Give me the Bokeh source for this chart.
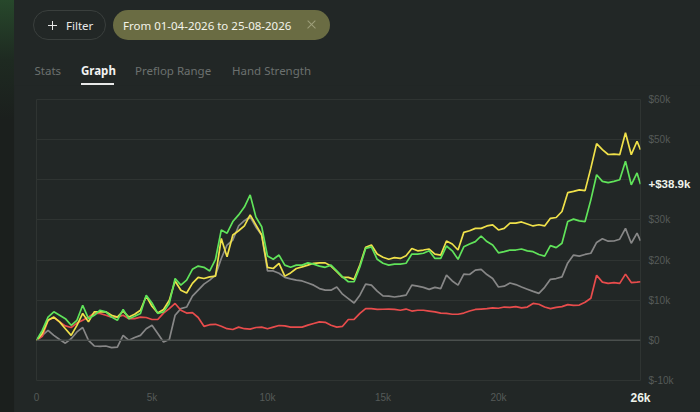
from bokeh.plotting import figure
from bokeh.layouts import row, column
from bokeh.models import Range1d, FixedTicker, Span, Label, Div
from bokeh.embed import file_html
from bokeh.resources import INLINE

# ---------------- data (hands played, cumulative result in $k) ----------------
hands = [0, 250, 500, 750, 1000, 1250, 1500, 1750, 2000, 2250,
         2500, 2750, 3000, 3250, 3500, 3750, 4000, 4250, 4500, 4750,
         5000, 5250, 5500, 5750, 6000, 6250, 6500, 6750, 7000, 7250,
         7500, 7750, 8000, 8250, 8500, 8750, 9000, 9250, 9500, 9750,
         10000, 10250, 10500, 10750, 11000, 11250, 11500, 11750, 12000, 12250,
         12500, 12750, 13000, 13250, 13500, 13750, 14000, 14250, 14500, 14750,
         15000, 15250, 15500, 15750, 16000, 16250, 16500, 16750, 17000, 17250,
         17500, 17750, 18000, 18250, 18500, 18750, 19000, 19250, 19500, 19750,
         20000, 20250, 20500, 20750, 21000, 21250, 21500, 21750, 22000, 22250,
         22500, 22750, 23000, 23250, 23500, 23750, 24000, 24250, 24500, 24750,
         25000, 25250, 25500, 25750, 26000, 26150]

net_won = [0, 2.5, 5.8, 7.1, 6.25, 5.4, 3.75, 5.0, 8.75, 5.4,
           6.25, 7.5, 7.1, 5.8, 5.0, 7.7, 5.4, 6.0, 6.7, 11.25,
           9.3, 6.7, 7.1, 9.2, 15.4, 13.75, 15.0, 17.7, 18.5, 18.2,
           17.3, 20.2, 27.5, 26.7, 29.6, 31.25, 33.2, 36.25, 30.7, 28.3,
           21.0, 20.2, 21.25, 18.75, 18.2, 18.75, 18.75, 19.3, 19.0, 18.5,
           18.2, 18.75, 17.3, 15.8, 14.6, 14.6, 18.3, 22.9, 23.3, 20.2,
           19.2, 18.75, 19.0, 19.0, 19.2, 21.5, 21.5, 21.7, 22.3, 20.4,
           20.4, 23.5, 22.3, 20.2, 23.3, 24.0, 24.6, 26.0, 24.6, 23.75,
           21.8, 22.1, 22.5, 22.5, 22.75, 22.3, 22.1, 21.4, 21.0, 23.6,
           23.1, 24.2, 29.6, 30.2, 29.75, 29.6, 35.0, 41.25, 39.6, 39.3,
           39.6, 40.0, 44.6, 38.75, 41.7, 38.9]

all_in_ev = [0, 1.7, 5.0, 5.8, 4.6, 2.9, 1.25, 3.75, 6.7, 4.6,
             7.1, 7.1, 7.1, 6.25, 5.8, 7.3, 5.8, 6.5, 7.5, 11.0,
             8.5, 6.8, 7.7, 10.0, 14.8, 12.5, 11.8, 14.2, 15.7, 15.4,
             15.8, 16.0, 25.4, 20.8, 26.25, 27.3, 28.5, 31.25, 28.75, 26.25,
             18.2, 17.9, 19.2, 16.0, 16.8, 17.9, 18.3, 18.75, 19.2, 19.3,
             19.3, 18.5, 17.1, 15.7, 15.7, 15.2, 18.75, 23.2, 23.75, 21.5,
             20.7, 20.2, 20.6, 20.4, 21.1, 22.9, 22.3, 22.5, 22.75, 21.5,
             21.25, 24.75, 24.0, 22.5, 26.9, 27.3, 27.9, 27.9, 28.5, 28.75,
             27.5, 27.9, 29.2, 29.2, 29.5, 29.0, 28.5, 28.8, 28.5, 30.4,
             30.6, 32.1, 36.8, 37.1, 37.5, 37.3, 42.9, 49.0, 47.5, 46.3,
             46.4, 46.25, 51.7, 46.25, 49.6, 47.5]

showdown = [0, 1.25, 2.5, 1.25, 0.2, -0.7, 0.4, 2.1, 3.2, 0.0,
            -1.4, -1.5, -1.4, -1.8, -1.7, 1.25, 0.0, 0.7, 1.25, 2.9,
            3.75, 1.7, -0.4, 0.2, 6.25, 7.9, 8.3, 11.0, 12.5, 14.0,
            15.0, 16.25, 20.4, 23.75, 25.0, 28.5, 29.8, 30.8, 28.2, 26.25,
            17.3, 17.3, 16.7, 15.7, 15.3, 15.0, 14.8, 14.3, 13.75, 12.9,
            12.5, 12.5, 13.3, 11.5, 10.4, 9.3, 11.25, 14.0, 13.75, 12.25,
            11.1, 11.0, 10.8, 11.0, 11.25, 13.75, 13.5, 13.2, 12.7, 13.2,
            12.9, 16.25, 14.8, 13.75, 16.5, 16.4, 17.5, 17.7, 16.4, 15.4,
            13.3, 13.5, 14.3, 13.9, 13.3, 12.75, 12.2, 11.7, 13.2, 15.2,
            15.4, 15.8, 19.3, 21.25, 21.0, 21.4, 21.7, 24.4, 25.3, 24.7,
            24.75, 25.2, 27.9, 24.2, 26.7, 24.8]

non_showdown = [0, 1.0, 5.0, 5.7, 4.6, 3.6, 3.2, 4.3, 5.0, 5.8,
                6.8, 6.7, 6.25, 5.8, 5.8, 6.25, 5.4, 5.4, 5.8, 5.7,
                5.2, 5.2, 6.8, 7.9, 9.2, 7.5, 6.8, 6.9, 5.7, 3.5,
                3.9, 4.0, 3.5, 2.9, 2.7, 3.3, 2.9, 2.8, 3.2, 3.3,
                2.9, 3.3, 3.7, 3.6, 3.3, 3.3, 3.3, 3.8, 4.2, 4.6,
                4.5, 3.75, 3.3, 3.5, 5.2, 5.25, 6.7, 7.9, 7.9, 7.7,
                7.75, 7.8, 7.7, 7.5, 7.8, 7.3, 7.5, 7.5, 7.3, 7.1,
                6.8, 6.7, 6.5, 6.5, 6.8, 7.3, 7.7, 7.8, 7.9, 8.1,
                8.0, 8.3, 8.2, 8.4, 8.1, 8.3, 9.2, 9.0, 8.3, 7.9,
                8.2, 8.4, 8.9, 8.7, 8.8, 9.5, 10.5, 16.2, 14.5, 14.2,
                14.4, 14.2, 16.5, 14.4, 14.5, 14.6]

y_ticks = [-10, 0, 10, 20, 30, 40, 50, 60]
y_labels = ["$-10k", "$0", "$10k", "$20k", "$30k", "", "$50k", "$60k"]
x_ticks = [0, 5000, 10000, 15000, 20000]
x_labels = ["0", "5k", "10k", "15k", "20k"]

tabs = ["Stats", "Graph", "Preflop Range", "Hand Strength"]
filter_text = "Filter"
date_text = "From 01-04-2026 to 25-08-2026"

for s in (net_won, all_in_ev, showdown, non_showdown):
    assert len(s) == len(hands), len(s)

# ---------------- colours ----------------
BG = "#222726"
GRID = "#2f3432"
TXT = "#eef2ea"
MUTED = "#6c716f"
AXIS_TXT = "#555a58"

# ---------------- left strip ----------------
strip = Div(text=('<div style="width:14px;height:412px;'
                  'background:linear-gradient(180deg,#27482b 0px,#1e2a21 60px,#1b1f1d 120px,#1b1f1d 412px);"></div>'),
            width=14, height=412, margin=0, styles={"background-color": "#1b1f1d"})

# ---------------- header (filter pills and tabs) ----------------
F = "font-family:'Noto Sans',sans-serif;font-size:11.5px;"
tab_left = [20.5, 67, 121, 218]
tab_html = ""
for i, t in enumerate(tabs):
    active = (t == "Graph")
    tab_html += ('<span style="position:absolute;left:{}px;top:60.5px;line-height:19px;white-space:nowrap;'
                 'color:{};font-weight:{};">{}</span>').format(
        tab_left[i], "#f2f2f2" if active else MUTED, 700 if active else 400, t)

header_html = (
    '<div style="position:relative;width:686px;height:86px;overflow:hidden;background:' + BG + ';' + F + '">'
    '<div style="position:absolute;left:19px;top:10px;width:73px;height:30px;box-sizing:border-box;'
    'border:1px solid #3a3f3d;border-radius:15px;"></div>'
    '<div style="position:absolute;left:34px;top:24.75px;width:9px;height:1.4px;background:#e6e6e6;"></div>'
    '<div style="position:absolute;left:37.8px;top:21px;width:1.4px;height:9px;background:#e6e6e6;"></div>'
    '<span style="position:absolute;left:52px;top:16px;line-height:19px;color:#e8e8e8;">' + filter_text + '</span>'
    '<div style="position:absolute;left:99px;top:10px;width:217px;height:30px;border-radius:15px;background:#6a6c43;"></div>'
    '<span style="position:absolute;left:109px;top:16px;line-height:19px;white-space:nowrap;color:#f3f3ea;">'
    + date_text + '</span>'
    '<div style="position:absolute;left:292px;top:24.4px;width:11px;height:1.2px;background:#9d9f7a;transform:rotate(45deg);"></div>'
    '<div style="position:absolute;left:292px;top:24.4px;width:11px;height:1.2px;background:#9d9f7a;transform:rotate(-45deg);"></div>'
    + tab_html +
    '<div style="position:absolute;left:67px;top:82.5px;width:33px;height:2px;background:#e8e8e8;"></div>'
    '<div style="position:absolute;left:0px;top:84.5px;width:686px;height:1.5px;background:#2e3331;"></div>'
    '</div>')
header = Div(text=header_html, width=686, height=85, margin=0, styles={"background-color": BG})

# ---------------- chart ----------------
p = figure(frame_width=604, frame_height=281,
           x_range=Range1d(0, hands[-1]), y_range=Range1d(-10, 60),
           y_axis_location="right", min_border_left=22, min_border_right=60,
           min_border_top=14, min_border_bottom=32,
           toolbar_location=None, output_backend="svg", margin=0,
           styles={"background-color": BG})
p.background_fill_color = BG
p.border_fill_color = BG
p.outline_line_color = GRID
p.outline_line_width = 1

p.xgrid.grid_line_color = None
p.ygrid.ticker = FixedTicker(ticks=y_ticks)
p.ygrid.grid_line_color = GRID
p.ygrid.grid_line_width = 1

p.yaxis.ticker = FixedTicker(ticks=y_ticks)
p.yaxis.major_label_overrides = dict(zip(y_ticks, y_labels))
p.xaxis.ticker = FixedTicker(ticks=x_ticks)
p.xaxis.major_label_overrides = dict(zip(x_ticks, x_labels))
for ax in (p.xaxis, p.yaxis):
    ax.axis_line_color = None
    ax.major_tick_line_color = None
    ax.minor_tick_line_color = None
    ax.major_tick_out = 0
    ax.major_tick_in = 0
    ax.major_label_text_color = AXIS_TXT
    ax.major_label_text_font = "Liberation Sans"
    ax.major_label_text_font_size = "10px"
p.yaxis.major_label_standoff = 8
p.xaxis.major_label_standoff = 11

p.add_layout(Span(location=0, dimension="width", line_color="#4a4f4d", line_width=1.5))

p.line(hands, showdown, line_color="#878787", line_width=1.7)
p.line(hands, non_showdown, line_color="#e84c4c", line_width=1.7)
p.line(hands, all_in_ev, line_color="#f0e14a", line_width=1.7)
p.line(hands, net_won, line_color="#60e35a", line_width=1.7)

# end-of-series labels placed in side panels so they are not clipped to the frame
p.add_layout(Label(x=hands[-1], y=net_won[-1], text="+${:.1f}k".format(net_won[-1]), x_offset=8,
                   text_align="left", text_baseline="middle", text_font="Liberation Sans",
                   text_font_style="bold", text_font_size="11.5px", text_color=TXT), "above")
p.add_layout(Label(x=hands[-1], y=-10, text="{}k".format(round(hands[-1] / 1000)), y_offset=-17,
                   text_align="center", text_baseline="middle", text_font="Liberation Sans",
                   text_font_style="bold", text_font_size="12px", text_color=TXT), "left")

col = column(header, p, spacing=0, margin=0, styles={"background-color": BG})
layout = row(strip, col, spacing=0, margin=0, styles={"background-color": BG})
open("out.html", "w").write(file_html(layout, INLINE))
